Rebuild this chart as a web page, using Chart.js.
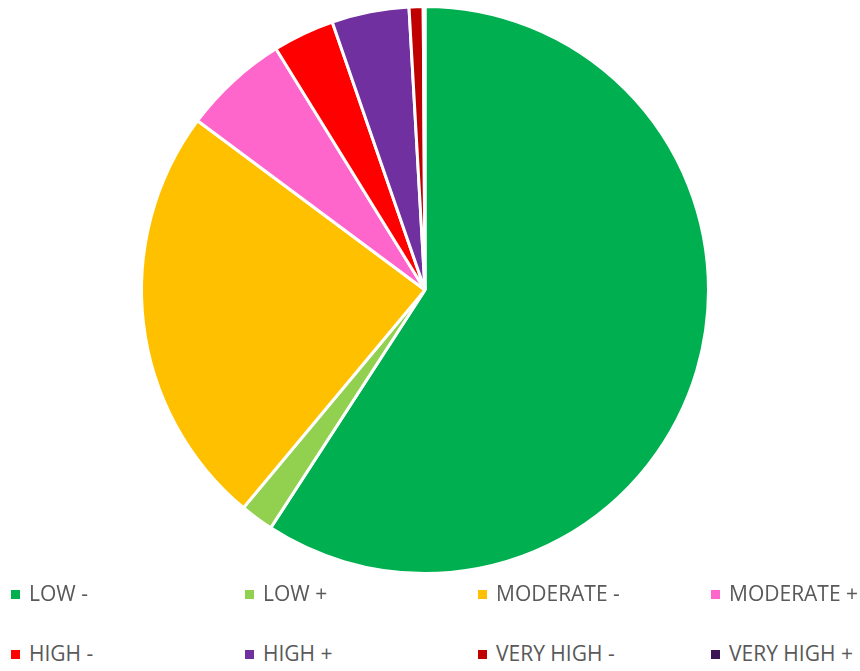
<!DOCTYPE html>
<html>
<head>
<meta charset="utf-8">
<script src="https://cdn.jsdelivr.net/npm/chart.js@4/dist/chart.umd.min.js"></script>
<style>
  html, body { margin: 0; padding: 0; background: #fff; }
  #wrap { position: relative; width: 860px; height: 671px; overflow: hidden; }
  #pie { position: absolute; left: 0; top: 0; }
  .item { position: absolute; font-family: "Open Sans", sans-serif; font-size: 21px;
          line-height: 21px; color: #595959; white-space: nowrap; }
  .box { position: absolute; width: 9px; height: 9px; }
</style>
</head>
<body>
<div id="wrap">
  <canvas id="pie" width="860" height="582"></canvas>
  <div id="legend"></div>
</div>
<script>
// Risk categories
var categories = ["LOW -", "LOW +", "MODERATE -", "MODERATE +", "HIGH -", "HIGH +", "VERY HIGH -", "VERY HIGH +"];
// share of each category (%)
var shares = [59.1, 1.9, 24.1, 6.0, 3.5, 4.4, 0.8, 0.1];
var colors = ["#00B050", "#92D050", "#FFC000", "#FF66CC", "#FF0000", "#7030A0", "#C00000", "#3B1653"];

var ctx = document.getElementById("pie");

var chart = new Chart(ctx, {
    type: 'pie',
    data: {
        labels: categories,
        datasets: [{
            data: shares,
            backgroundColor: colors,
            borderColor: '#ffffff',
            borderWidth: 3,
            hoverOffset: 0
        }]
    },
    options: {
        responsive: false,
        animation: false,
        layout: { padding: { top: 5, bottom: 7, left: 0, right: 10 } },
        plugins: {
            legend: { display: false },
            tooltip: { enabled: false }
        }
    }
});

// legend: 4 columns, 2 rows
var colX = [11, 245, 478, 711];
var rowY = [590, 650];
var legend = document.getElementById("legend");
categories.forEach(function (name, i) {
    var x = colX[i % 4], y = rowY[Math.floor(i / 4)];
    var box = document.createElement("div");
    box.className = "box";
    box.style.left = x + "px";
    box.style.top = y + "px";
    box.style.background = colors[i];
    legend.appendChild(box);
    var txt = document.createElement("div");
    txt.className = "item";
    txt.style.left = (x + 18) + "px";
    txt.style.top = (y - 6.7) + "px";
    txt.textContent = name;
    legend.appendChild(txt);
});
</script>
</body>
</html>
